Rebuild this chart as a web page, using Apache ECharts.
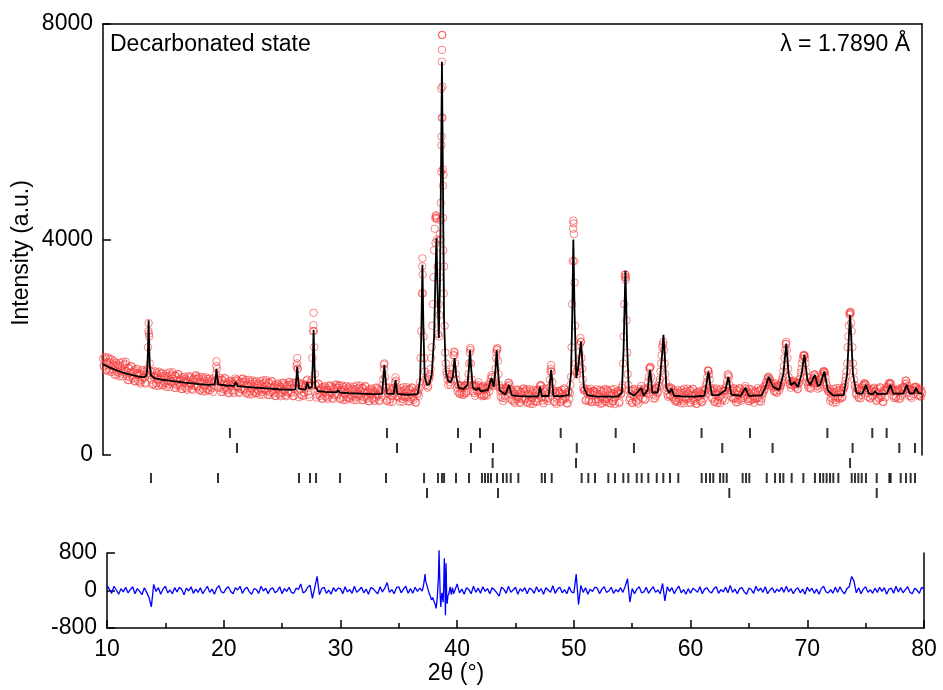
<!DOCTYPE html>
<html><head><meta charset="utf-8">
<script src="https://cdn.jsdelivr.net/npm/echarts@6/dist/echarts.min.js"></script>
<style>html,body{margin:0;padding:0;background:#fff}#c{width:943px;height:690px}</style>
</head><body><div id="c"></div>
<script>
// ---- data ----
const scanStart = 10;
const obsStep = 0.1;   // observed intensities, one value per 0.1 deg, 10.0 .. 80.0
const obsY = [
1790,1640,1820,1580,1730,1550,1780,1650,1770,1580,
1490,1710,1550,1670,1460,1650,1510,1730,1570,1690,
1560,1390,1620,1440,1650,1460,1540,1370,1590,1500,
1375,1495,1325,1575,1435,1545,1345,1500,1600,2450,
1700,1480,1555,1315,1465,1285,1525,1395,1545,1335,
1295,1515,1355,1475,1265,1455,1315,1535,1375,1495,
1415,1245,1475,1295,1505,1315,1395,1225,1445,1355,
1260,1380,1210,1460,1320,1430,1230,1400,1280,1470,
1410,1260,1450,1210,1360,1180,1420,1290,1440,1230,
1200,1420,1260,1380,1170,1360,1380,1740,1400,1400,
1340,1170,1400,1220,1430,1240,1320,1150,1370,1280,
1200,1320,1150,1420,1260,1370,1170,1340,1220,1410,
1355,1205,1395,1155,1305,1125,1365,1235,1385,1175,
1150,1370,1210,1330,1120,1310,1170,1390,1230,1350,
1285,1115,1345,1165,1375,1185,1265,1095,1315,1225,
1140,1260,1090,1340,1200,1310,1110,1280,1160,1350,
1300,1150,1340,1100,1250,1350,1800,1350,1330,1120,
1100,1320,1160,1280,1380,1300,1120,1340,1290,1800,
2640,1500,1295,1115,1325,1135,1215,1045,1265,1175,
1090,1210,1040,1290,1150,1260,1060,1230,1110,1300,
1250,1250,1290,1050,1200,1020,1260,1130,1280,1070,
1050,1270,1110,1230,1020,1210,1070,1290,1130,1250,
1190,1020,1250,1070,1280,1090,1170,1000,1220,1130,
1050,1170,1000,1250,1110,1220,1020,1190,1150,1300,
1680,1450,1255,1015,1165,985,1225,1095,1245,1250,
1440,1240,1080,1200,990,1180,1040,1260,1100,1220,
1165,995,1225,1045,1255,1065,1145,975,1195,1150,
1100,1350,2300,3650,2200,1550,1300,1420,1280,1450,
1600,2000,2800,3800,4400,4400,3500,2800,4100,6800,
7800,5200,2400,1700,1500,1300,1500,1300,1500,1600,
1920,1700,1400,1180,1300,1130,1290,1120,1280,1150,
1300,1180,1350,1700,1985,1400,1180,1300,1100,1280,
1180,1350,1130,1260,1090,1280,1110,1240,1100,1300,
1180,1350,1480,1350,1300,1450,1800,1985,1500,1250,
1080,1230,1000,1200,1050,1250,1280,1340,1220,1030,
1015,1135,965,1215,1075,1185,985,1155,1035,1225,
1180,1030,1220,980,1130,950,1190,1060,1210,1000,
990,1210,1050,1220,1300,1150,1010,1230,1070,1190,
1000,1150,1400,1670,1350,1200,980,1160,1040,1190,
1145,975,1205,1025,1235,1045,1125,955,1175,1150,
1450,2800,4350,3200,1700,1500,1650,1900,2170,1800,
1400,1200,1220,1020,1180,1000,1150,1230,990,1190,
1180,1030,1220,980,1130,950,1190,1060,1210,1000,
985,1205,1045,1165,955,1145,1005,1225,1065,1185,
1135,965,1195,1150,1300,2200,3300,3300,1900,1300,
1015,1135,965,1215,1075,1185,985,1155,1035,1225,
1280,1150,1230,1020,1200,1150,1350,1600,1640,1300,
1120,1230,1050,1250,1150,1280,1400,1700,2000,2100,
1700,1350,1250,1080,1260,1120,1230,1080,1200,1000,
990,1210,1050,1170,960,1150,1010,1230,1070,1190,
1140,970,1200,1020,1230,1040,1120,950,1170,1080,
1010,1130,980,1210,1120,1200,1350,1570,1500,1250,
1195,1045,1235,995,1145,965,1205,1075,1225,1015,
1050,1200,1200,1300,1500,1450,1200,1080,1230,1040,
1150,980,1210,1030,1240,1050,1130,1060,1180,1280,
1180,1040,1230,1000,1150,1030,1190,1040,1160,1060,
1180,1000,1220,1050,1150,1200,1280,1330,1420,1450,
1400,1320,1280,1250,1180,1270,1150,1280,1200,1280,
1350,1450,1650,1950,2100,1800,1450,1320,1250,1370,
1330,1350,1260,1330,1230,1350,1450,1600,1780,1860,
1800,1550,1350,1250,1360,1230,1350,1420,1500,1450,
1330,1230,1350,1300,1420,1500,1560,1520,1350,1230,
1180,1220,1060,1180,970,1160,1020,1240,1080,1200,
1040,1200,1080,1250,1300,1450,1700,2200,2600,2660,
2300,1700,1400,1250,1120,1230,1060,1200,1110,1250,
1300,1330,1300,1200,1080,1200,1060,1220,1110,1250,
1170,1000,1230,1050,1260,1070,1150,980,1200,1180,
1230,1270,1310,1330,1250,1180,1060,1200,1080,1210,
1040,1200,1100,1250,1200,1260,1380,1330,1220,1100,
1220,1060,1200,1200,1250,1260,1200,1100,1230,1080,
1150
];
// observed intensities in between, one value per 0.1 deg, 10.05 .. 79.95
const obsStart2 = 10.05;
const obsY2 = [
1660,1800,1570,1710,1810,1590,1720,1540,1680,1740,
1660,1490,1630,1530,1710,1570,1460,1670,1540,1730,
1470,1610,1390,1530,1640,1420,1570,1370,1520,1600,
1525,1355,1495,1395,1575,1435,1325,1560,2000,2200,
1550,1400,1305,1445,1555,1335,1485,1285,1435,1515,
1465,1295,1435,1335,1515,1375,1265,1475,1345,1535,
1325,1465,1245,1385,1495,1275,1425,1225,1375,1455,
1410,1240,1380,1280,1460,1320,1210,1420,1290,1480,
1280,1420,1200,1340,1450,1230,1380,1180,1330,1410,
1370,1200,1340,1240,1420,1280,1500,1600,1250,1440,
1250,1390,1170,1310,1420,1200,1350,1150,1300,1380,
1350,1180,1320,1380,1400,1260,1150,1360,1230,1420,
1225,1365,1145,1285,1395,1175,1325,1125,1275,1355,
1320,1150,1290,1190,1370,1230,1120,1330,1200,1390,
1195,1335,1115,1255,1365,1145,1295,1095,1245,1325,
1290,1120,1260,1160,1340,1200,1090,1300,1170,1360,
1170,1310,1090,1230,1340,1650,1600,1070,1220,1300,
1270,1100,1240,1300,1400,1180,1070,1280,1400,2300,
2000,1300,1065,1205,1315,1095,1245,1045,1195,1275,
1240,1070,1210,1110,1290,1150,1040,1250,1120,1310,
1120,1290,1040,1180,1290,1070,1220,1020,1170,1250,
1220,1050,1190,1090,1270,1130,1020,1230,1100,1290,
1100,1240,1020,1160,1270,1050,1200,1000,1150,1230,
1200,1030,1170,1070,1250,1110,1000,1210,1080,1400,
1700,1250,1005,1145,1255,1035,1185,985,1135,1350,
1380,1100,1160,1060,1240,1100,990,1200,1070,1260,
1075,1215,995,1135,1245,1025,1175,975,1125,1205,
1250,1800,3000,3000,1800,1400,1350,1250,1400,1500,
1800,2400,3300,4200,4450,4000,2250,2600,4000,6260,
5000,3500,1900,1550,1400,1450,1350,1400,1500,1850,
1900,1500,1250,1300,1150,1280,1170,1250,1120,1280,
1150,1300,1500,1900,1700,1300,1280,1150,1270,1200,
1300,1200,1250,1120,1260,1100,1230,1130,1260,1250,
1300,1420,1450,1280,1350,1600,1950,1750,1300,1180,
1200,1060,1180,1100,1250,1220,1340,1300,1120,1200,
1165,995,1135,1035,1215,1075,965,1175,1045,1235,
1050,1190,970,1110,1220,1000,1150,950,1100,1180,
1160,990,1130,1280,1290,1070,960,1170,1040,1230,
1050,1250,1550,1550,1200,1000,1150,950,1100,1180,
1165,995,1135,1035,1215,1075,965,1175,1045,1300,
2000,3600,4100,2400,1550,1550,1750,2050,2100,1600,
1250,1200,1010,1160,1220,1030,1170,980,1120,1190,
1160,990,1130,1030,1210,1070,960,1170,1040,1230,
1045,1185,965,1105,1215,995,1145,945,1095,1175,
1150,990,1130,1250,1700,2800,3350,2500,1500,1200,
1055,1195,975,1115,1225,1005,1155,955,1105,1185,
1200,1050,1150,1040,1200,1250,1450,1620,1450,1200,
1050,1200,1100,1240,1180,1350,1550,1850,2050,1950,
1500,1200,1120,1240,1100,1250,1180,1050,1150,1020,
1160,990,1130,1030,1210,1070,960,1170,1040,1230,
1050,1190,970,1110,1220,1000,1150,950,1100,1180,
1160,990,1130,1050,1210,1300,1450,1560,1400,1200,
1065,1205,985,1125,1235,1015,1165,965,1115,1195,
1180,1010,1250,1380,1480,1300,1150,1200,1060,1240,
1060,1200,980,1120,1230,1010,1160,1100,1240,1220,
1170,1000,1140,1040,1220,1080,970,1180,1050,1240,
1060,1200,990,1130,1260,1220,1350,1300,1450,1420,
1350,1280,1330,1190,1330,1170,1260,1300,1250,1300,
1400,1550,1800,2060,1950,1600,1380,1300,1360,1290,
1380,1300,1330,1220,1330,1400,1530,1700,1840,1850,
1700,1450,1300,1350,1250,1340,1380,1480,1490,1400,
1280,1330,1250,1400,1460,1540,1550,1450,1300,1200,
1175,1005,1145,1045,1225,1085,975,1185,1055,1245,
1150,1060,1200,1250,1380,1550,2000,2400,2640,2450,
2000,1550,1300,1150,1230,1080,1200,1050,1180,1280,
1330,1320,1250,1150,1230,1050,1180,1090,1230,1180,
1190,1020,1160,1060,1240,1100,990,1200,1070,1260,
1200,1330,1340,1320,1200,1100,1200,1060,1180,1230,
1180,1050,1230,1130,1260,1320,1380,1280,1150,1230,
1090,1200,1130,1260,1270,1230,1120,1220,1100,1200
];
// extra observed points on steep peak flanks [2theta, intensity]
const obsPeakPoints = [
[13.88,2300],[13.93,2250],
[19.68,1650],[26.58,1700],[26.63,1600],
[27.98,2410],[28.03,2300],
[34.03,1600],[37.28,3500],[37.33,3350],
[38.42,3935],[38.46,4430],[38.52,4380],[38.72,2200],[38.78,3300],
[38.86,4360],[38.88,4680],[38.91,5260],[38.93,5750],[38.94,5910],[38.96,7300],
[38.97,7520],[38.98,7795],[39.01,6840],[39.02,6260],[39.04,5300],[39.06,4400],[39.08,3800],[39.12,3000],
[40.03,1850],[41.4,1950],[43.62,1900],[43.68,1960],
[48.28,1600],[50.18,4200],[50.22,4300],[50.27,3600],[50.83,2100],
[54.62,3350],[54.68,3250],
[56.73,1620],[61.73,1560],
[68.38,2060],[69.93,1840],[71.63,1540],
[73.82,2640],[73.88,2620]
];
// calculated profile [2theta, intensity]
const calcProfile = [
[10,1690],[10.5,1630],[11,1585],[11.5,1545],[12,1510],[12.5,1482],[13,1460],[13.5,1442],[13.7,1470],[13.8,1650],[13.85,2000],[13.9,2500],[13.95,2000],[14.0,1650],[14.1,1480],[14.4,1425],
[15,1400],[16,1370],[17,1345],[18,1322],[19,1303],[19.55,1310],[19.65,1480],[19.7,1600],[19.75,1480],[19.85,1310],[20.5,1290],[21.2,1282],[21.35,1355],[21.5,1280],
[22,1268],[23,1250],[24,1235],[25,1220],[26,1208],[26.45,1220],[26.55,1480],[26.6,1640],[26.65,1480],[26.75,1230],[27.3,1210],[27.45,1350],[27.6,1240],[27.85,1260],
[27.93,1700],[28.0,2320],[28.07,1700],[28.15,1260],[28.4,1185],[29,1172],[29.95,1162],[30.1,1200],[30.25,1160],[31,1150],[32,1140],[33,1130],[33.85,1135],[33.97,1450],
[34.05,1670],[34.13,1450],[34.25,1140],[34.85,1135],[35.0,1390],[35.15,1135],[36,1118],[36.9,1130],[37.1,1400],[37.2,2200],[37.3,3530],[37.4,2200],[37.5,1450],
[37.7,1300],[37.9,1320],[38.1,1500],[38.3,2200],[38.4,3200],[38.5,4030],[38.6,3000],[38.7,2170],[38.8,3200],[38.9,5500],[38.97,7300],[39.05,5200],[39.15,2500],
[39.3,1550],[39.5,1380],[39.7,1350],[39.9,1450],[40.05,1800],[40.2,1450],[40.4,1250],[40.8,1225],[41.15,1300],[41.27,1600],[41.37,1950],[41.47,1600],[41.6,1260],
[41.9,1205],[42.1,1244],[42.3,1180],[42.9,1210],[43.2,1430],[43.4,1260],[43.55,1600],[43.65,1950],[43.75,1600],[43.9,1200],[44.4,1125],[44.7,1300],[44.95,1110],
[45.5,1092],[46.5,1086],[47.2,1090],[47.35,1270],[47.5,1095],[48.1,1095],[48.22,1400],[48.3,1580],[48.38,1400],[48.5,1095],[49,1088],[49.8,1110],[50.0,1500],
[50.1,2500],[50.2,4000],[50.3,2700],[50.45,1430],[50.6,1600],[50.75,1900],[50.85,2100],[50.95,1800],[51.1,1250],[51.4,1110],[52,1088],[53,1082],[54,1085],
[54.35,1160],[54.5,2000],[54.65,3420],[54.8,2000],[54.95,1160],[55.4,1100],[56,1244],[56.2,1105],[56.55,1200],[56.67,1450],[56.75,1580],[56.83,1450],[56.95,1160],
[57.4,1160],[57.6,1400],[57.8,1900],[57.9,2230],[58.0,1900],[58.15,1250],[58.4,1150],[58.6,1230],[58.8,1100],[59.5,1088],[60.5,1085],[61.4,1100],[61.6,1350],
[61.75,1550],[61.9,1300],[62.05,1110],[62.6,1110],[63.2,1200],[63.45,1450],[63.7,1120],[64.5,1100],[64.9,1244],[65.2,1100],[66.3,1105],[66.6,1250],[66.9,1450],
[67.1,1350],[67.3,1260],[67.8,1210],[68.15,1500],[68.4,2070],[68.6,1500],[68.8,1300],[69.1,1350],[69.4,1260],[69.7,1500],[69.95,1860],[70.2,1400],[70.45,1300],
[70.85,1485],[71.1,1280],[71.3,1310],[71.65,1550],[71.95,1200],[72.4,1105],[73.3,1110],[73.6,1500],[73.75,2200],[73.85,2600],[73.95,2200],[74.1,1500],[74.4,1150],
[74.9,1140],[75.2,1300],[75.45,1140],[75.8,1130],[76.0,1180],[76.2,1130],[77.0,1140],[77.3,1300],[77.55,1140],[78.4,1140],[78.7,1300],[78.95,1140],[79.3,1150],
[79.5,1244],[79.7,1150],[80,1140]
];
// difference (obs - calc), one value per 0.2 deg, 10.0 .. 80.0
const diffStep = 0.2;
const diffY = [
110,30,-60,90,10,-80,40,-30,70,-50,
20,80,-70,40,-20,-90,60,-40,-150,-350,
130,-20,60,-80,30,90,-50,10,-70,60,
-30,70,20,-90,50,-10,80,-60,30,-40,
60,-70,10,90,-40,30,-80,50,100,-30,
-50,40,80,-20,-70,60,10,90,-60,30,
70,-30,-80,40,20,-60,90,-10,50,-70,
30,60,-50,-10,80,-70,40,-20,70,-40,
-60,50,20,140,-50,-20,70,110,-170,60,
300,-90,40,70,-60,10,-80,60,-20,50,
40,-70,80,-30,20,-60,90,-40,10,70,
-50,30,-80,60,40,-20,-70,80,-30,50,
170,-40,20,-70,60,80,-50,30,90,-60,
40,-60,70,-20,50,-80,250,30,-120,-200,
-220,-380,860,-350,690,580,-120,-40,20,-60,
140,-50,30,-80,60,20,-70,90,-40,50,
-60,80,-20,40,-70,60,10,-50,-120,70,
30,-60,90,-40,10,70,-80,40,-20,60,
-70,50,20,-60,80,-30,40,-80,60,10,
-40,100,-60,30,70,-50,20,-70,80,-30,
-50,350,-300,110,-40,60,-80,30,-20,70,
50,-70,30,80,-40,-10,70,-60,20,-30,
60,-40,90,250,-250,40,-70,30,80,-50,
-30,70,-60,20,80,-40,10,-70,150,-220,
80,-20,60,-70,30,90,-50,20,-80,40,
-60,50,10,-40,80,-70,30,60,-20,-50,
40,80,-60,20,-30,70,-50,110,-40,30,
-70,40,60,-30,-80,50,20,-60,90,-10,
50,-40,80,-70,10,60,-50,30,-20,70,
-40,90,-30,40,-70,20,60,-50,30,-80,
70,-20,50,-60,30,-80,40,90,-30,-50,
20,-60,70,-40,80,-20,-70,40,80,300,
200,-50,60,-70,30,80,-40,20,-60,50,
-40,70,-20,60,-80,30,50,-60,90,-30,
60,-50,20,80,-40,-70,50,10,-60,70,
30
];
// finer reading of the difference around the strongest peaks
const diffDetail = [
[36.9,20],[37.0,-10],[37.1,80],[37.2,250],[37.25,350],[37.3,200],[37.4,120],[37.5,30],[37.6,-60],[37.7,-120],[37.8,-200],
[37.9,-150],[38.0,-220],[38.1,-280],[38.2,-380],[38.3,-150],[38.4,300],[38.45,860],[38.5,350],[38.55,-100],[38.6,-350],
[38.65,-150],[38.7,-50],[38.8,-250],[38.85,100],[38.9,690],[38.95,200],[39.0,-530],[39.05,580],[39.1,-100],[39.15,-280],
[39.2,-120],[39.3,-60],[39.4,80],[39.5,-90],[39.6,60],[39.7,-70]
];
// Bragg reflection positions, one list per row
const braggRow1 = [20.85,34.27,40.34,42.22,49.12,53.82,61.16,65.30,71.91,75.75,76.98];
const braggRow2 = [21.45,35.13,41.45,43.33,50.49,55.38,62.93,67.23,74.07,78.06,79.4];
const braggRow3 = [43.3,50.43,73.85];
const braggRow4 = [14.10,19.83,26.75,27.69,28.21,30.26,34.19,37.44,38.63,38.97,39.15,40.17,41.28,42.39,42.65,42.91,43.16,43.68,
44.19,44.5,44.85,45.5,47.5,47.78,48.35,50.91,51.48,52.05,53.19,53.76,54.47,54.9,55.62,56.04,56.61,57.33,57.89,58.46,59.17,
61.17,61.54,61.88,62.16,62.74,63.02,63.31,64.67,64.96,65.24,66.73,67.44,67.86,68.15,68.86,69.86,70.85,71.28,71.56,71.85,
72.14,72.42,72.85,73.99,74.27,74.56,74.85,75.21,76.13,77.21,77.32,78.18,78.63,79.03,79.4];
const braggRow5 = [37.69,43.76,63.53,76.13];

// ---- build series data ----
const r2 = v => Math.round(v * 100) / 100;
const obsData = obsY.map((v, i) => [r2(scanStart + i * obsStep), v])
  .concat(obsY2.map((v, i) => [r2(obsStart2 + i * obsStep), v]))
  .concat(obsPeakPoints);
const diffData = diffY.map((v, i) => [r2(scanStart + i * diffStep), v])
  .filter(p => p[0] < 36.85 || p[0] > 39.75)
  .concat(diffDetail)
  .sort((a, b) => a[0] - b[0]);
const braggData = [];
[braggRow1, braggRow2, braggRow3, braggRow4, braggRow5].forEach((row, k) => row.forEach(x => braggData.push([x, k + 1])));

const FF = 'Liberation Sans, Arial, sans-serif';
const axisLine = {show: true, onZero: false, lineStyle: {color: '#000', width: 1.5}};
const lbl = {fontSize: 23, color: '#000', fontFamily: FF, margin: 10, formatter: v => String(v)};

const chart = echarts.init(document.getElementById('c'), null, {renderer: 'canvas'});
chart.setOption({
  animation: false,
  backgroundColor: '#fff',
  grid: [
    {left: 103, right: 21, top: 24, height: 431},
    {left: 103, right: 21, top: 418, height: 90},
    {left: 107, right: 19, top: 553, height: 75}
  ],
  xAxis: [
    {gridIndex: 0, type: 'value', min: 10, max: 80, show: false},
    {gridIndex: 0, type: 'value', min: 10, max: 80, position: 'top', axisLine: axisLine,
     axisTick: {show: false}, axisLabel: {show: false}, splitLine: {show: false}},
    {gridIndex: 1, type: 'value', min: 10, max: 80, show: false},
    {gridIndex: 2, type: 'value', min: 10, max: 80, interval: 10, position: 'bottom', axisLine: axisLine,
     axisTick: {inside: true, length: 8, lineStyle: {color: '#000', width: 1.5}},
     minorTick: {show: true, splitNumber: 2, length: 5, lineStyle: {color: '#000', width: 1.5}},
     axisLabel: lbl, splitLine: {show: false}}
  ],
  yAxis: [
    {gridIndex: 0, type: 'value', min: 0, max: 8000, interval: 4000, axisLine: axisLine,
     axisTick: {inside: true, length: 8, lineStyle: {color: '#000', width: 1.5}},
     axisLabel: lbl, splitLine: {show: false}},
    {gridIndex: 0, type: 'value', min: 0, max: 8000, position: 'right', axisLine: axisLine,
     axisTick: {show: false}, axisLabel: {show: false}, splitLine: {show: false}},
    {gridIndex: 1, type: 'value', min: 0, max: 6, inverse: true, show: false},
    {gridIndex: 2, type: 'value', min: -800, max: 800, interval: 800, axisLine: axisLine,
     axisTick: {inside: true, length: 8, lineStyle: {color: '#000', width: 1.5}},
     axisLabel: lbl, splitLine: {show: false}},
    {gridIndex: 2, type: 'value', min: -800, max: 800, position: 'right', axisLine: axisLine,
     axisTick: {show: false}, axisLabel: {show: false}, splitLine: {show: false}}
  ],
  series: [
    {type: 'scatter', name: 'obs', xAxisIndex: 0, yAxisIndex: 0, data: obsData, symbol: 'circle', symbolSize: 7.5,
     large: false, itemStyle: {color: 'rgba(255,255,255,0)', borderColor: 'rgba(245,55,55,0.75)', borderWidth: 1}, z: 2},
    {type: 'line', name: 'calc', xAxisIndex: 0, yAxisIndex: 0, data: calcProfile, showSymbol: false,
     lineStyle: {color: '#000', width: 1.8}, z: 3},
    {type: 'scatter', name: 'bragg', xAxisIndex: 2, yAxisIndex: 2, data: braggData, symbol: 'rect', symbolSize: [2, 10],
     itemStyle: {color: '#000'}},
    {type: 'line', name: 'diff', xAxisIndex: 3, yAxisIndex: 3, data: diffData, showSymbol: false, clip: false,
     lineStyle: {color: '#0000ff', width: 1.3}}
  ],
  graphic: [
    {type: 'text', x: 110, y: 45, style: {text: 'Decarbonated state', fontSize: 23, fontFamily: FF, fill: '#000', align: 'left', verticalAlign: 'middle'}},
    {type: 'text', x: 910, y: 45, style: {text: 'λ = 1.7890 Å', fontSize: 23, fontFamily: FF, fill: '#000', align: 'right', verticalAlign: 'middle'}},
    {type: 'text', x: 22, y: 253, rotation: Math.PI / 2, style: {text: 'Intensity (a.u.)', fontSize: 23, fontFamily: FF, fill: '#000', align: 'center', verticalAlign: 'middle'}},
    {type: 'text', x: 456, y: 674, style: {text: '2θ (°)', fontSize: 23, fontFamily: FF, fill: '#000', align: 'center', verticalAlign: 'middle'}}
  ]
});
</script>
</body></html>
